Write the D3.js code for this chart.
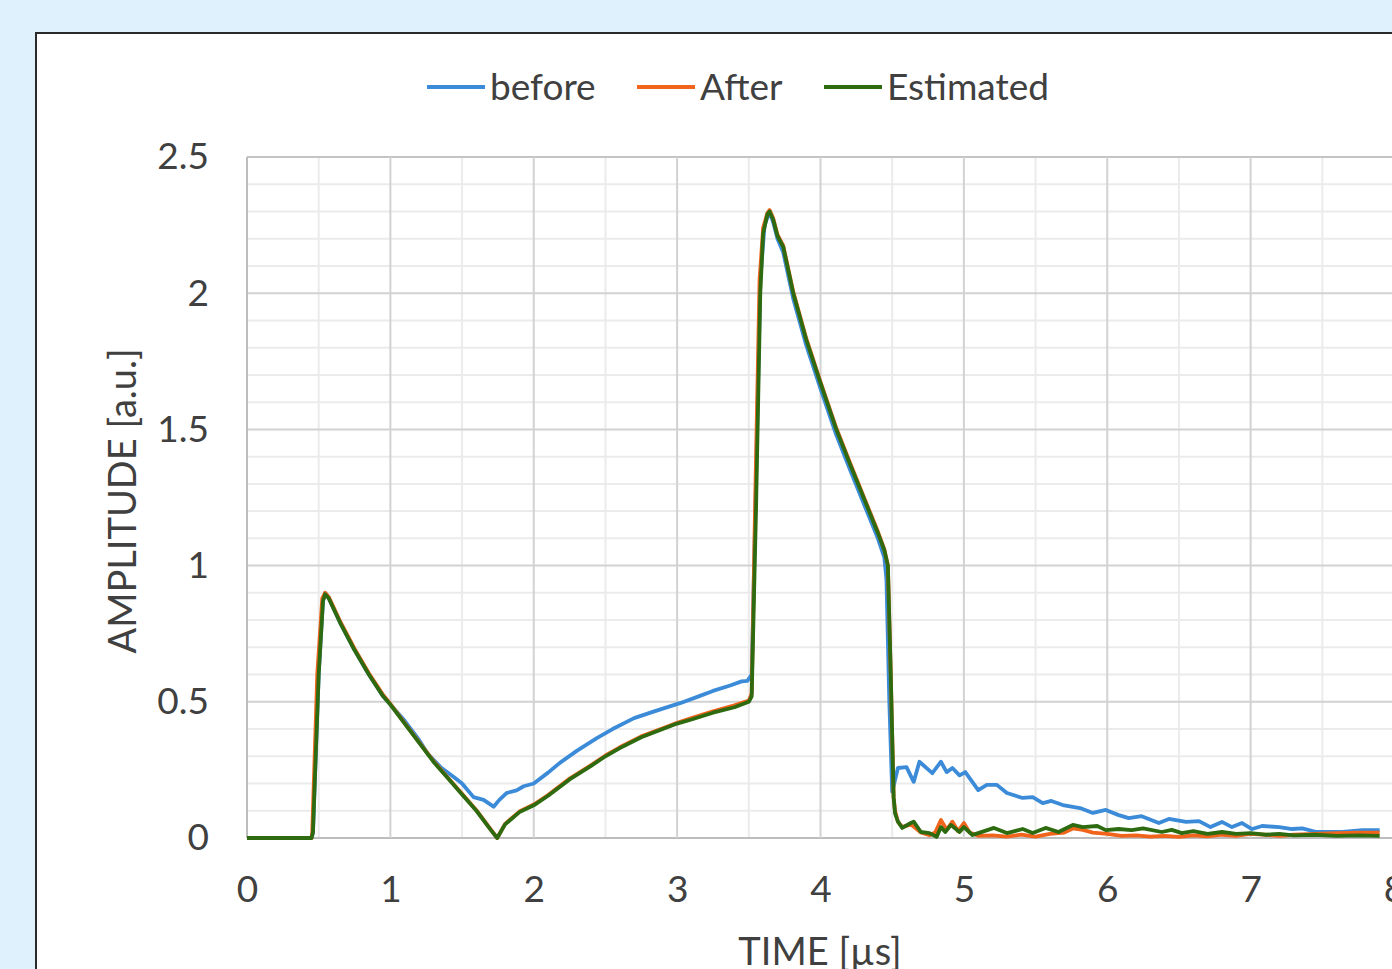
<!DOCTYPE html>
<html><head><meta charset="utf-8">
<script src="https://cdn.jsdelivr.net/npm/d3@7"></script>
<style>
html,body{margin:0;padding:0;background:#dff1fd;overflow:hidden;}
svg{display:block;}
</style></head>
<body>
<script>
// ---- data ----
const seriesNames = ["before", "After", "Estimated"];
const seriesColors = ["#3b8bd8", "#f0641c", "#2d6a10"];
const xTicks = [0, 1, 2, 3, 4, 5, 6, 7, 8];
const yTicks = [0, 0.5, 1, 1.5, 2, 2.5];

const before = [[0,0],[0.45,0],[0.46,0.02],[0.5,0.6],[0.53,0.87],[0.545,0.9],[0.57,0.88],[0.65,0.79],[0.75,0.69],[0.85,0.6],[0.95,0.52],[1.0,0.49],[1.1,0.43],[1.2,0.36],[1.26,0.31],[1.35,0.26],[1.44,0.225],[1.5,0.2],[1.58,0.15],[1.65,0.14],[1.72,0.115],[1.76,0.14],[1.81,0.165],[1.88,0.175],[1.93,0.19],[2.0,0.2],[2.1,0.24],[2.18,0.275],[2.3,0.32],[2.44,0.367],[2.55,0.4],[2.7,0.44],[2.83,0.463],[2.9,0.475],[3.02,0.495],[3.15,0.52],[3.25,0.54],[3.37,0.56],[3.45,0.575],[3.49,0.577],[3.52,0.6],[3.55,1.3],[3.58,2.05],[3.61,2.25],[3.645,2.3],[3.67,2.26],[3.7,2.2],[3.74,2.15],[3.81,1.98],[3.9,1.81],[4.0,1.65],[4.11,1.48],[4.2,1.36],[4.3,1.23],[4.4,1.1],[4.445,1.03],[4.46,0.95],[4.48,0.5],[4.5,0.17],[4.54,0.257],[4.6,0.26],[4.65,0.206],[4.69,0.28],[4.78,0.238],[4.84,0.28],[4.88,0.242],[4.92,0.257],[4.97,0.23],[5.01,0.242],[5.1,0.176],[5.16,0.195],[5.23,0.195],[5.3,0.165],[5.41,0.147],[5.48,0.15],[5.55,0.128],[5.61,0.136],[5.69,0.121],[5.81,0.11],[5.9,0.092],[5.99,0.103],[6.08,0.084],[6.15,0.073],[6.24,0.08],[6.36,0.055],[6.43,0.07],[6.55,0.059],[6.64,0.062],[6.72,0.04],[6.8,0.059],[6.87,0.04],[6.94,0.055],[7.01,0.033],[7.08,0.044],[7.2,0.04],[7.29,0.033],[7.36,0.035],[7.46,0.022],[7.64,0.022],[7.78,0.029],[7.9,0.029]];

const after = [[0,0],[0.45,0],[0.455,0.02],[0.49,0.6],[0.525,0.88],[0.545,0.9],[0.57,0.885],[0.65,0.795],[0.75,0.695],[0.85,0.605],[0.95,0.525],[1.0,0.492],[1.1,0.422],[1.2,0.352],[1.3,0.283],[1.4,0.222],[1.5,0.162],[1.6,0.102],[1.7,0.032],[1.745,0.0],[1.8,0.052],[1.9,0.097],[2.0,0.123],[2.1,0.158],[2.25,0.218],[2.4,0.268],[2.5,0.303],[2.6,0.333],[2.75,0.373],[2.9,0.403],[3.0,0.423],[3.1,0.44],[3.25,0.465],[3.4,0.487],[3.5,0.505],[3.52,0.53],[3.545,1.25],[3.575,2.05],[3.6,2.24],[3.63,2.295],[3.645,2.305],[3.67,2.275],[3.7,2.215],[3.74,2.175],[3.81,2.005],[3.9,1.835],[4.0,1.675],[4.11,1.505],[4.2,1.385],[4.3,1.255],[4.4,1.125],[4.445,1.06],[4.47,1.0],[4.49,0.6],[4.51,0.15],[4.52,0.1],[4.54,0.06],[4.57,0.04],[4.63,0.05],[4.7,0.02],[4.76,0.01],[4.8,0.02],[4.84,0.066],[4.88,0.03],[4.92,0.06],[4.96,0.025],[5.0,0.055],[5.04,0.02],[5.1,0.008],[5.2,0.01],[5.3,0.005],[5.4,0.012],[5.5,0.005],[5.6,0.015],[5.7,0.02],[5.76,0.035],[5.83,0.03],[5.9,0.02],[6.0,0.015],[6.1,0.008],[6.2,0.01],[6.3,0.005],[6.4,0.008],[6.5,0.004],[6.6,0.01],[6.7,0.006],[6.8,0.012],[6.9,0.008],[7.0,0.015],[7.1,0.012],[7.2,0.008],[7.3,0.012],[7.45,0.015],[7.6,0.018],[7.75,0.02],[7.9,0.02]];

const estimated = [[0,0],[0.45,0],[0.46,0.02],[0.5,0.6],[0.53,0.87],[0.545,0.895],[0.57,0.88],[0.65,0.79],[0.75,0.69],[0.85,0.6],[0.95,0.52],[1.0,0.49],[1.1,0.42],[1.2,0.35],[1.3,0.28],[1.4,0.22],[1.5,0.16],[1.6,0.1],[1.7,0.03],[1.745,0.0],[1.8,0.05],[1.9,0.095],[2.0,0.12],[2.1,0.155],[2.25,0.215],[2.4,0.265],[2.5,0.3],[2.6,0.33],[2.75,0.37],[2.9,0.4],[3.0,0.42],[3.1,0.435],[3.25,0.46],[3.4,0.48],[3.5,0.5],[3.52,0.52],[3.55,1.2],[3.58,2.0],[3.6,2.22],[3.63,2.29],[3.645,2.3],[3.67,2.27],[3.7,2.21],[3.74,2.17],[3.81,2.0],[3.9,1.83],[4.0,1.67],[4.11,1.5],[4.2,1.38],[4.3,1.25],[4.4,1.12],[4.445,1.057],[4.47,1.0],[4.49,0.6],[4.51,0.15],[4.52,0.09],[4.54,0.06],[4.57,0.037],[4.63,0.055],[4.65,0.06],[4.7,0.022],[4.76,0.018],[4.81,0.004],[4.84,0.04],[4.87,0.022],[4.91,0.048],[4.97,0.022],[5.0,0.04],[5.06,0.011],[5.1,0.018],[5.21,0.037],[5.3,0.018],[5.41,0.033],[5.48,0.018],[5.57,0.037],[5.66,0.022],[5.76,0.048],[5.83,0.04],[5.93,0.044],[5.99,0.029],[6.08,0.033],[6.17,0.029],[6.25,0.035],[6.38,0.022],[6.45,0.03],[6.52,0.018],[6.6,0.025],[6.7,0.015],[6.8,0.022],[6.9,0.015],[7.0,0.018],[7.1,0.012],[7.2,0.015],[7.3,0.01],[7.45,0.012],[7.6,0.008],[7.75,0.01],[7.9,0.008]];

const seriesData = [before, after, estimated];

// ---- drawing ----
const W = 1392, H = 969;
const FONT = "Lato, 'Open Sans', sans-serif";
const svg = d3.select("body").append("svg").attr("width", W).attr("height", H);

svg.append("rect").attr("x", 0).attr("y", 0).attr("width", W).attr("height", H).attr("fill", "#dff1fd");
svg.append("rect").attr("x", 36).attr("y", 33).attr("width", W + 20).attr("height", H + 20)
  .attr("fill", "#ffffff").attr("stroke", "#2a2a2a").attr("stroke-width", 2);

const x = d3.scaleLinear().domain([0, 8]).range([247, 1394]);
const y = d3.scaleLinear().domain([0, 2.5]).range([838, 157]);

const grid = svg.append("g");
grid.selectAll("line.hmin").data(d3.range(0, 25).map(i => i / 10).filter(v => Math.round(v * 10) % 5 !== 0))
  .join("line").attr("x1", x(0)).attr("x2", x(8)).attr("y1", d => y(d)).attr("y2", d => y(d))
  .attr("stroke", "#ebebeb").attr("stroke-width", 2);
grid.selectAll("line.vmin").data(d3.range(0, 8).map(i => i + 0.5))
  .join("line").attr("x1", d => x(d)).attr("x2", d => x(d)).attr("y1", y(2.5)).attr("y2", y(0))
  .attr("stroke", "#ebebeb").attr("stroke-width", 2);
grid.selectAll("line.hmaj").data(yTicks)
  .join("line").attr("x1", x(0)).attr("x2", x(8)).attr("y1", d => y(d)).attr("y2", d => y(d))
  .attr("stroke", d => d === 0 ? "#bdbdbd" : (d === 2.5 ? "#c4c4c4" : "#d2d2d2")).attr("stroke-width", 2);
grid.selectAll("line.vmaj").data(xTicks)
  .join("line").attr("x1", d => x(d)).attr("x2", d => x(d)).attr("y1", y(2.5)).attr("y2", y(0))
  .attr("stroke", d => d === 0 ? "#bdbdbd" : "#d2d2d2").attr("stroke-width", 2);

const xAxis = svg.append("g").attr("transform", `translate(0,${y(0)})`)
  .call(d3.axisBottom(x).tickValues(xTicks).tickSize(0).tickPadding(38).tickFormat(d3.format("d")));
xAxis.select(".domain").remove();
xAxis.selectAll("text").attr("font-family", FONT).attr("font-size", 37).attr("fill", "#404040");

const yAxis = svg.append("g").attr("transform", `translate(${x(0)},0)`)
  .call(d3.axisLeft(y).tickValues(yTicks).tickSize(0).tickPadding(38).tickFormat(d => d === 0 ? "0" : String(d)));
yAxis.select(".domain").remove();
yAxis.selectAll("text").attr("font-family", FONT).attr("font-size", 37).attr("fill", "#404040");

const line = d3.line().x(d => x(d[0])).y(d => y(d[1]));
svg.append("g").selectAll("path").data(seriesData).join("path")
  .attr("d", line).attr("fill", "none")
  .attr("stroke", (d, i) => seriesColors[i]).attr("stroke-width", 3.8)
  .attr("stroke-linejoin", "round");

svg.append("text").attr("x", 820).attr("y", 965).attr("text-anchor", "middle")
  .attr("font-family", FONT).attr("font-size", 38).attr("fill", "#404040").text("TIME [µs]");
svg.append("text").attr("transform", "translate(136,501) rotate(-90)").attr("text-anchor", "middle")
  .attr("font-family", FONT).attr("font-size", 38).attr("fill", "#404040").text("AMPLITUDE [a.u.]");

const legendX = [427, 637, 824];
const lg = svg.append("g");
seriesNames.forEach((n, i) => {
  lg.append("line").attr("x1", legendX[i]).attr("x2", legendX[i] + 58).attr("y1", 87).attr("y2", 87)
    .attr("stroke", seriesColors[i]).attr("stroke-width", 3.8);
  lg.append("text").attr("x", legendX[i] + 63).attr("y", 100).attr("font-family", FONT)
    .attr("font-size", 37).attr("fill", "#404040").text(n);
});
</script>
</body></html>
